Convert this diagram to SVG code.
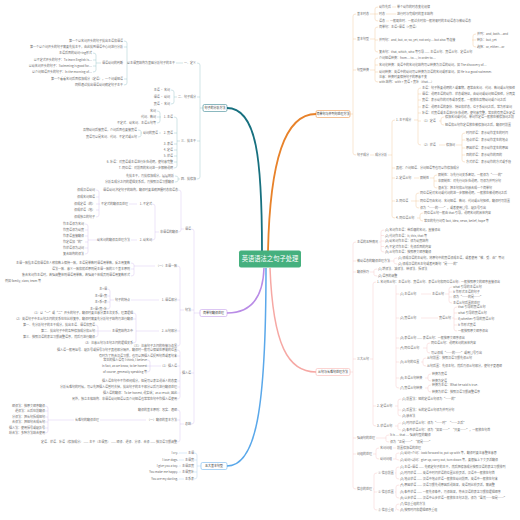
<svg xmlns="http://www.w3.org/2000/svg" width="520" height="520" viewBox="0 0 520 520">
<style>
text{font-family:"Noto Sans CJK SC","Noto Sans",sans-serif;font-size:3px;fill:#6a6a6a}
.r{text-anchor:end}
.m{text-anchor:middle;fill:#333}
.c{fill:none;stroke-width:.4}
.ct{stroke:#8cbac2}.co{stroke:#f0c08e}.cp{stroke:#d2bbee}.cb{stroke:#a3ccf0}.ck{stroke:#f4c0bf}
.bx{fill:#fff;stroke-width:.5}
</style>
<rect width="520" height="520" fill="#fff"/>
<g id="connectors">
<path d="M262 251C262 160 257 108 227 108" fill="none" stroke="#17707f" stroke-width="1.8"/>
<path d="M268 251C270 160 285 114 316 114" fill="none" stroke="#e8822a" stroke-width="1.8"/>
<path d="M264 268C263 298 250 313 227 313" fill="none" stroke="#b98ce6" stroke-width="1.5"/>
<path d="M266 268C266 410 256 466 227 466" fill="none" stroke="#5aa8ea" stroke-width="1.5"/>
<path d="M270 268C273 345 288 372 316 372" fill="none" stroke="#f6a8a4" stroke-width="1.5"/>
<g class="c ct">
<path d="M203 108H200M197 63Q200 63 200 65V177Q200 179 197 179M197 97H200M197 141H200"/>
<path d="M183 63H176M129 63H127M124 41Q127 41 127 43V83Q127 85 124 85M124 47H127M124 79H127M101 63H96M93 53Q96 53 96 55V70Q96 72 93 72M93 60H96M93 66H96"/>
<path d="M177 97H174M171 90Q174 90 174 92V102Q174 104 171 104"/>
<path d="M180 141H177M174 117Q177 117 177 119V166Q177 168 174 168M174 133H177M174 144H177M174 150H177M174 156H177M174 162H177"/>
<path d="M161 117H160M157 111Q160 111 160 113V121Q160 123 157 123M157 117H160"/>
<path d="M161 133H159M142 133H141M138 130Q141 130 141 131.5V135.5Q141 137 138 137"/>
<path d="M180 179H178M175 176Q178 176 178 177.5V180.5Q178 182 175 182"/>
</g>
<g class="c cp">
<path d="M200 313H194M191 229Q194 229 194 231V422Q194 424 191 424M191 310H194M191 373H194"/>
<path d="M184 229H181M178 190Q181 190 181 192V230Q181 232 178 232"/>
<path d="M159 232H155M152 204Q155 204 155 206V238Q155 240 152 240"/>
<path d="M137 204H129M100 204H99M96 190Q99 190 99 192V215Q99 217 96 217M96 197H99M96 204H99M96 210H99"/>
<path d="M137 240H131M99 240H88M85 224Q88 224 88 226V252Q88 254 85 254M85 230H88M85 236H88M85 242H88M85 248H88"/>
<path d="M184 310H180M177 266Q180 266 180 268V344Q180 346 177 346M177 300H180M177 331H180"/>
<path d="M155 266H134M131 263Q134 263 134 265V274Q134 276 131 276M131 269H134"/>
<path d="M159 300H131M114 300H110M107 289Q110 289 110 291V307Q110 309 107 309M107 296H110M107 302H110"/>
<path d="M159 331H136M133 313Q136 313 136 315V341Q136 343 133 343M133 319H136M111 331H98M95 325Q98 325 98 327V335Q98 337 95 337M95 331H98"/>
<path d="M181 373H180M177 350Q180 350 180 352V397Q180 399 177 399M177 356H180M177 366H180M177 381H180M177 387H180M177 393H180"/>
<path d="M161 366H150M147 360Q150 360 150 362V370Q150 372 147 372M147 366H150"/>
<path d="M184 424H180M177 410Q180 410 180 412V440Q180 442 177 442M177 420H180M146 420H100M74 420H48M45 406Q48 406 48 408V431Q48 433 45 433M45 411H48M45 417H48M45 422H48M45 428H48"/>
</g>
<g class="c cb">
<path d="M201 466H197M194 453Q197 453 197 455V477Q197 479 194 479M194 460H197M194 472H197"/>
<path d="M187 453H179M184 460H179M181 466H179M181 472H179M184 479H179"/>
</g>
<g class="c co">
<path d="M350 114H353M356 14Q353 14 353 16V153Q353 155 356 155M353 39H356M353 70H356"/>
<path d="M370 14H375M378 7Q375 7 375 9V19Q375 21 378 21M375 14H378M392 7H396M386 14H396M386 21H389"/>
<path d="M370 39H375M378 27Q375 27 375 29V50Q375 52 378 52M375 40H378M472 40H473M476 34Q473 34 473 36V45Q473 47 476 47M473 40H476"/>
<path d="M370 70H375M378 58Q375 58 375 60V80Q375 82 378 82M375 65H378M375 72H378"/>
<path d="M370 155H374M388 155H392M395 120Q392 120 392 122V216Q392 218 395 218M392 168H395M392 178H395M392 201H395"/>
<path d="M414 120H418M421 88Q418 88 418 90V143Q418 145 421 145M418 94H421M418 100H421M418 107H421M418 113H421M418 121H421"/>
<path d="M439 121H441M444 117Q441 117 441 119V123Q441 125 444 125"/>
<path d="M439 145H445M456 145H462M465 133Q462 133 462 135V160Q462 162 465 162M462 140H465M462 148H465M462 155H465"/>
<path d="M414 178H419M430 178H434M437 175Q434 175 434 177V186Q434 188 437 188M434 181H437"/>
<path d="M411 201H416M419 193Q416 193 416 195V206Q416 208 419 208M416 201H419"/>
<path d="M417 218H420M423 213Q420 213 420 215V219Q420 221 423 221"/>
</g>
<g class="c ck">
<path d="M350 372H353M356 242Q353 242 353 244V487Q353 489 356 489M353 261H356M353 272H356M353 359H356M353 438H356M353 454H356"/>
<path d="M379 242H381M384 230Q381 230 381 232V250Q381 252 384 252M381 235.5H384M381 241H384M381 246.5H384"/>
<path d="M388 261H394M397 258Q394 258 394 259.5V262.5Q394 264 397 264"/>
<path d="M370 272H374M377 269Q374 269 374 270.5V274.5Q374 276 377 276"/>
<path d="M370 359H373M376 282Q373 282 373 284V424Q373 426 376 426M373 406H376M455 282H460"/>
<path d="M396 285V386Q396 388 399 388M396 294H399M396 318H399M396 338H399M396 348H399M396 362H399M396 378H399"/>
<path d="M421 294H431M445 294H449M452 287Q449 287 449 289V301Q449 303 452 303M449 292H452M449 297H452"/>
<path d="M421 318H438M452 318H454M457 307Q454 307 454 309V329Q454 331 457 331M454 313H457M454 319H457M454 325H457"/>
<path d="M423 348H427M430 343Q427 343 427 345V351Q427 353 430 353"/>
<path d="M421 362H423M426 358Q423 358 423 360V364Q423 366 426 366"/>
<path d="M425 378H428M431 374Q428 374 428 376V379Q428 381 431 381M425 388H428M431 385Q428 385 428 387V390Q428 392 431 392"/>
<path d="M395 406H398M401 399Q398 399 398 401V414Q398 416 401 416M398 410H401"/>
<path d="M395 426H398M401 423Q398 423 398 424.5V428.5Q398 430 401 430"/>
<path d="M376 438H386M389 435Q386 435 386 436.5V440.5Q386 442 389 442"/>
<path d="M373 454H376M379 448Q376 448 376 450V457Q376 459 379 459M393 448H396M393 459H396M399 453Q396 453 396 454.5V458.5Q396 460 399 460"/>
<path d="M373 489H374M377 473Q374 473 374 475V508Q374 510 377 510M374 492H377"/>
<path d="M395 473H396M399 467Q396 467 396 469V477Q396 479 399 479M395 492H396M399 485Q396 485 396 487V496Q396 498 399 498M395 510H396M399 504Q396 504 396 506V508Q396 510 399 510"/>
</g>
</g>
<g id="root"><rect x="239" y="250.5" width="62" height="17" rx="2" fill="#45b07e"/><text x="270" y="261.3" text-anchor="middle" style="fill:#fff;font-size:6.3px">英语语法之句子处理</text></g>
<g id="n1"><rect class="bx" x="203" y="104.5" width="24" height="7" rx="1.5" stroke="#17707f"/><text class="m" x="215" y="109">句子的分析方法</text></g>
<g id="n2"><rect class="bx" x="316" y="110.5" width="34" height="7" rx="1.5" stroke="#e8822a"/><text class="m" x="333" y="115">简单句与并列句处理方法</text></g>
<g id="n3"><rect class="bx" x="200" y="309.5" width="27" height="7" rx="1.5" stroke="#b98ce6"/><text class="m" x="213.5" y="314">简单句翻译处理</text></g>
<g id="n4"><rect class="bx" x="201" y="462.5" width="26" height="7" rx="1.5" stroke="#5aa8ea"/><text class="m" x="214" y="467">五大基本句型</text></g>
<g id="n5"><rect class="bx" x="316" y="368.5" width="34" height="7" rx="1.5" stroke="#f6a8a4"/><text class="m" x="333" y="373">从句与长难句处理方法</text></g>
<g id="teal">
<g id="t1"><text class="r" x="196" y="64">一、定义</text></g>
<g id="t1a"><text class="r" x="175" y="64">以主谓宾结构为基础分析句子的主干</text></g>
<g id="t1b"><text class="r" x="123" y="42">第一个以名词开头的句子找出主语和谓语</text></g>
<g id="t1c"><text class="r" x="123" y="48">第一个以介词开头的句子需要先找主干，由此找到谓语中心词进行分析</text></g>
<g id="t1d"><text class="r" x="123" y="64">谓语动词的判断</text></g>
<g id="t1e"><text class="r" x="92" y="54">主语后面的动词+ing形式</text></g>
<g id="t1f"><text class="r" x="92" y="61">以不定式开头的句子：To learn English is…</text></g>
<g id="t1g"><text class="r" x="92" y="67">以动名词开头的句子：Swimming is good for…</text></g>
<g id="t1h"><text class="r" x="92" y="73">以介词短语开头的句子：In the morning of…</text></g>
<g id="t1i"><text class="r" x="123" y="80">第一个看看名词后面修饰成分（定语），一个词或短语</text></g>
<g id="t1j"><text class="r" x="123" y="86">同样通过找出谓语动词确定句子主干</text></g>
<g id="t2"><text class="r" x="196" y="98">二、句子成分</text></g>
<g id="t2a"><text class="r" x="170" y="91">主语 · 名词</text></g>
<g id="t2b"><text class="r" x="170" y="98">谓语 · 动词</text></g>
<g id="t2c"><text class="r" x="170" y="105">宾语 · 名词</text></g>
<g id="t3"><text class="r" x="196" y="142">三、找主干</text></g>
<g id="t3a"><text class="r" x="173" y="118">1. 主语</text></g>
<g id="t3a1"><text class="r" x="156" y="112">名词</text></g>
<g id="t3a2"><text class="r" x="156" y="118">代词、数词</text></g>
<g id="t3a3"><text class="r" x="156" y="124">不定式、动名词、主语从句等</text></g>
<g id="t3b"><text class="r" x="173" y="134">2. 宾语</text></g>
<g id="t3b0"><text class="r" x="158" y="134">动词的宾语</text></g>
<g id="t3b1"><text class="r" x="137" y="131">及物动词后接宾语，介词后面也要接宾语</text></g>
<g id="t3b2"><text class="r" x="137" y="138">宾语可以是名词、代词、不定式或从句</text></g>
<g id="t3c"><text class="r" x="173" y="145">3. 表语</text></g>
<g id="t3d"><text class="r" x="173" y="151">4. 定语</text></g>
<g id="t3e"><text class="r" x="173" y="157">5. 状语</text></g>
<g id="t3f"><text class="r" x="173" y="163">6. 补语：对宾语或主语进行补充说明，使句意完整</text></g>
<g id="t3g"><text class="r" x="173" y="169">7. 同位语：对前面的名词进一步解释说明</text></g>
<g id="t4"><text class="r" x="196" y="180">四、找修饰</text></g>
<g id="t4a"><text class="r" x="174" y="177">先找主干，再找修饰成分，层层剖析</text></g>
<g id="t4b"><text class="r" x="174" y="183">分析各成分之间的逻辑关系后，再按照汉语习惯翻译</text></g>
</g>
<g id="purple">
<g id="p1"><text class="r" x="191" y="230">谓语</text></g>
<g id="p1a"><text class="r" x="178" y="191">谓语动词决定句子的结构，翻译时要准确把握时态和语态</text></g>
<g id="p1b"><text class="r" x="178" y="233">非谓语的翻译</text></g>
<g id="p1c"><text class="r" x="152" y="205">1. 不定式</text></g>
<g id="p1d"><text class="r" x="128" y="205">不定式的翻译及处理</text></g>
<g id="p1d1"><text class="r" x="95" y="191">译成汉语动词</text></g>
<g id="p1d2"><text class="r" x="95" y="198">译成名词短语</text></g>
<g id="p1d3"><text class="r" x="95" y="205">译成定语（的）</text></g>
<g id="p1d4"><text class="r" x="95" y="211">译成状语（地）</text></g>
<g id="p1d5"><text class="r" x="95" y="218">译成独立的句子</text></g>
<g id="p1e"><text class="r" x="152" y="241">2. 动名词</text></g>
<g id="p1f"><text class="r" x="130" y="241">动名词的翻译及处理方法</text></g>
<g id="p1f1"><text class="r" x="84" y="225">作主语译为名词</text></g>
<g id="p1f2"><text class="r" x="84" y="231">作宾语译为动宾</text></g>
<g id="p1f3"><text class="r" x="84" y="237">作表语直接翻译</text></g>
<g id="p1f4"><text class="r" x="84" y="243">作定语加“的”</text></g>
<g id="p1f5"><text class="r" x="84" y="249">作状语译为副词</text></g>
<g id="p1f6"><text class="r" x="84" y="255">复合结构的译法</text></g>
<g id="p2"><text class="r" x="191" y="311">句法</text></g>
<g id="p2a"><text class="r" x="177" y="267">（一）主谓一致</text></g>
<g id="p2a1"><text class="r" x="130" y="264">主谓一致指主语和谓语在人称和数上保持一致，主语是单数时谓语用单数，反之用复数</text></g>
<g id="p2a2"><text class="r" x="130" y="270">语法一致、意义一致和就近原则是主谓一致的三个基本原则</text></g>
<g id="p2a3"><text class="r" x="130" y="276">集合名词作主语时，若强调整体则谓语用单数，若强调个体成员则谓语用复数形式</text><text x="5" y="281.5">例如 family, class, team 等</text></g>
<g id="p2b"><text class="r" x="177" y="301">1. 谓语部分</text></g>
<g id="p2b0"><text class="r" x="130" y="301">句子的特点</text></g>
<g id="p2b1"><text class="r" x="107" y="290">主+谓</text></g>
<g id="p2b2"><text class="r" x="107" y="297">主+谓+宾</text></g>
<g id="p2b3"><text class="r" x="107" y="303">主+系+表</text></g>
<g id="p2b4"><text class="r" x="107" y="310">主+谓+宾+补</text></g>
<g id="p2c"><text class="r" x="177" y="332">2. 从句部分</text></g>
<g id="p2c1"><text class="r" x="133" y="314">（1）以“一”或“二”开头的句子，翻译时要注意分清主次关系，理清逻辑</text></g>
<g id="p2c2"><text class="r" x="133" y="320">（2）英语句子中主从句之间的关系往往比较复杂，翻译时需要先分析句子结构再进行翻译</text></g>
<g id="p2c3"><text class="r" x="133" y="332">主谓宾结构之中</text></g>
<g id="p2c4"><text class="r" x="95" y="326">第一、先分析句子的主干成分，找出主语、谓语和宾语</text></g>
<g id="p2c5"><text class="r" x="95" y="332">第二、找出句子中的各种修饰成分和从句</text></g>
<g id="p2c6"><text class="r" x="95" y="338">第三、按照汉语的表达习惯调整语序，然后再进行翻译</text></g>
<g id="p2c7"><text class="r" x="133" y="344">（3）注意从句与主句之间的逻辑关系</text></g>
<g id="p2d"><text class="r" x="177" y="347">（三）注意句子之间的衔接与连贯</text></g>
<g id="p3"><text class="r" x="191" y="374">插入语</text></g>
<g id="p3a"><text class="r" x="177" y="351">插入语一般用逗号、破折号或括号与句子其他部分隔开，翻译时一般可以保留在原来的位置</text></g>
<g id="p3b"><text class="r" x="177" y="357">有时为了符合汉语习惯，也可以把插入语提到句首或者句末</text></g>
<g id="p3c"><text class="r" x="177" y="367">（1）插入语</text></g>
<g id="p3c1"><text class="r" x="147" y="361">常见的插入语有 I think, I believe</text></g>
<g id="p3c2"><text class="r" x="147" y="367">in fact, as we know, to be honest</text></g>
<g id="p3c3"><text class="r" x="147" y="373">of course, generally speaking 等</text></g>
<g id="p3d"><text class="r" x="177" y="382">插入语在句中不作任何成分，但是可以表达说话人的态度</text></g>
<g id="p3e"><text class="r" x="177" y="388">分析长难句的时候，可以先把插入语暂时去掉，找出句子的主干部分以后再进行翻译处理</text></g>
<g id="p3f"><text class="r" x="177" y="394">插入语的翻译：To be honest, 说实话；as a result, 因此</text></g>
<g id="p3g"><text class="r" x="177" y="400">另外，独立主格结构、非谓语动词短语以及介词短语也常常在句中作插入语使用</text></g>
<g id="p4"><text class="r" x="191" y="425">总结</text></g>
<g id="p4a"><text class="r" x="177" y="411">翻译的基本原则：忠实、通顺</text></g>
<g id="p4b"><text class="r" x="177" y="421">（一）翻译的基本方法</text></g>
<g id="p4c"><text class="r" x="99" y="421">长难句的翻译处理</text></g>
<g id="p4c1"><text class="r" x="45" y="407">顺译法：按原文顺序翻译</text></g>
<g id="p4c2"><text class="r" x="45" y="412">逆译法：从后往前翻译</text></g>
<g id="p4c3"><text class="r" x="45" y="418">分译法：把长句拆成短句</text></g>
<g id="p4c4"><text class="r" x="45" y="423">合译法：把短句合成长句</text></g>
<g id="p4c5"><text class="r" x="45" y="429">插入法：使用括号或破折号</text></g>
<g id="p4c6"><text class="r" x="45" y="434">综合法：多种方法结合使用</text></g>
<g id="p4d"><text class="r" x="177" y="443">定语、状语、补语（修饰成分） —— 主干（主谓宾） —— 顺译、逆译、分译、合译 —— 按汉语习惯调整</text></g>
</g>
<g id="blue">
<g id="b1"><text class="r" x="194" y="454">主谓</text><text class="r" x="178" y="454">I cry.</text></g>
<g id="b2"><text class="r" x="194" y="461">主谓宾</text><text class="r" x="178" y="461">I love dogs.</text></g>
<g id="b3"><text class="r" x="194" y="467">主谓双宾</text><text class="r" x="178" y="467">I give you a toy.</text></g>
<g id="b4"><text class="r" x="194" y="473">主谓宾补</text><text class="r" x="178" y="473">You make me happy.</text></g>
<g id="b5"><text class="r" x="194" y="480">主系表</text><text class="r" x="178" y="480">You are my darling.</text></g>
</g>
<g id="orange">
<g id="o1"><text x="357" y="15">基本时态</text></g>
<g id="o1a"><text x="379" y="8">动作先后</text><text x="397" y="8">单个动作的时态变化规律</text></g>
<g id="o1b"><text x="379" y="15">时态</text><text x="397" y="15">进行时与完成时的基本结构</text></g>
<g id="o1c"><text x="379" y="22">语态</text><text x="390" y="22">一般现在时、一般过去时和一般将来时的主动语态与被动语态</text></g>
<g id="o2"><text x="357" y="40">基本句型</text></g>
<g id="o2a"><text x="379" y="28">简单句：主语+谓语（+宾语）</text></g>
<g id="o2b"><text x="379" y="41">并列句：and, but, or, so, yet, not only… but also 等连接</text></g>
<g id="o2b1"><text x="477" y="35">并列：and, both…and</text></g>
<g id="o2b2"><text x="477" y="41">转折：but, yet</text></g>
<g id="o2b3"><text x="477" y="48">选择：or, either…or</text></g>
<g id="o2c"><text x="379" y="53">复合句：that, which, who 等引导 —— 主语从句、宾语从句、定语从句</text></g>
<g id="o3"><text x="357" y="71">句型转换</text></g>
<g id="o3a"><text x="379" y="59">介词短语转换：from… to…, in order to…</text></g>
<g id="o3b"><text x="379" y="66">名词化转换：英语中的名词化结构可以转换为汉语的动词，如 The discovery of…</text></g>
<g id="o3c"><text x="379" y="73">动词转换：英语中的动词可以转换为汉语的名词或形容词，如 He is a good swimmer.</text><text x="379" y="78">注意：转换时要保持句子的原意不变</text></g>
<g id="o3d"><text x="379" y="83">with 结构：with + 宾语 + 宾补（that…）</text></g>
<g id="o4"><text x="357" y="156">句子成分</text></g>
<g id="o4a"><text x="375" y="156">成分分析</text></g>
<g id="o4b"><text x="396" y="121">1. 主干成分</text></g>
<g id="o4b1"><text x="422" y="89">主语：句子所要说明的人或事物，通常由名词、代词、数词或从句担任</text></g>
<g id="o4b2"><text x="422" y="95">谓语：说明主语的动作、状态或特征，由动词或动词短语担任，分两类</text></g>
<g id="o4b3"><text x="422" y="101">宾语：表示动作的对象或承受者，一般放在及物动词或介词之后</text></g>
<g id="o4b4"><text x="422" y="108">表语：说明主语的身份、特征和状态，位于系动词之后，常为形容词</text></g>
<g id="o4b5"><text x="422" y="114">补语：对宾语或主语进行补充说明，使句意完整，常见的有宾语补足语</text></g>
<g id="o4c"><text x="422" y="122">（1）定语</text></g>
<g id="o4c1"><text x="445" y="118">修饰名词或代词，单词作定语一般放在被修饰词之前</text></g>
<g id="o4c2"><text x="445" y="126">短语和从句作定语放在被修饰词之后，翻译时前置</text></g>
<g id="o4d"><text x="422" y="146">（2）状语</text><text x="446" y="146">修饰词</text></g>
<g id="o4d1"><text x="466" y="134">时间状语：表示动作发生的时间</text></g>
<g id="o4d2"><text x="466" y="141">地点状语：表示动作发生的地点</text></g>
<g id="o4d3"><text x="466" y="149">原因状语：表示动作发生的原因</text></g>
<g id="o4d4"><text x="466" y="156">目的状语：表示动作的目的</text></g>
<g id="o4d5"><text x="466" y="163">方式状语：表示动作的方式或手段</text></g>
<g id="o4e"><text x="396" y="169">其他：介词短语、分词短语等也可以作修饰成分</text></g>
<g id="o4f"><text x="396" y="179">2. 定语从句</text><text x="420" y="179">限制性</text></g>
<g id="o4f1"><text x="438" y="176">限制性：与先行词关系密切，一般译为“……的”</text></g>
<g id="o4f2"><text x="438" y="182">非限制性：对先行词补充说明，可译为并列分句</text></g>
<g id="o4f3"><text x="438" y="189">混合法：把主句和从句融合成一个简单句</text></g>
<g id="o4g"><text x="396" y="202">3. 同位语</text></g>
<g id="o4g1"><text x="420" y="194">同位语是对名词或代词的进一步解释说明，一般放在被说明词之后</text></g>
<g id="o4g2"><text x="420" y="202">同位语可由名词、名词短语、数词、代词或从句担任，翻译时可前置</text></g>
<g id="o4g3"><text x="420" y="209">译为“……的……”，或者使用冒号、破折号引出</text></g>
<g id="o4h"><text x="396" y="219">4. 同位语从句</text></g>
<g id="o4h1"><text x="424" y="214">同位语从句一般由 that 引导，说明名词的具体内容</text></g>
<g id="o4h2"><text x="424" y="222">常见的先行词有 fact, idea, news, belief, hope 等</text></g>
</g>
<g id="pink">
<g id="k1"><text x="357" y="243">主语的五种情况</text></g>
<g id="k1a"><text x="385" y="231">(1) 名词作主语：带后缀的名词，直接译出</text></g>
<g id="k1b"><text x="385" y="236.5">(2) 代词作主语：it, this, that 等</text></g>
<g id="k1c"><text x="385" y="242">(3) 动名词作主语：译为动宾结构</text></g>
<g id="k1d"><text x="385" y="247.5">(4) 不定式作主语：先译后面的内容</text></g>
<g id="k1e"><text x="385" y="253">(5) 从句作主语：按照原文顺序翻译</text></g>
<g id="k2"><text x="357" y="262">被动语态的翻译处理方法</text></g>
<g id="k2a"><text x="398" y="259">(1) 译成汉语的主动句，将原句中的宾语译成主语，或者使用“被、受、由”等词</text></g>
<g id="k2b"><text x="398" y="265">(2) 译成汉语的无主句或者判断句“是……的”</text></g>
<g id="k3"><text x="357" y="273">翻译技巧</text></g>
<g id="k3a"><text x="378" y="270">(1) 增译法、减译法、转译法、拆译法</text></g>
<g id="k3b"><text x="378" y="277">(2) 语序的调整</text></g>
<g id="k4"><text x="357" y="360">三大从句</text></g>
<g id="k4a"><text x="377" y="283">1. 名词性从句：主语从句、宾语从句、表语从句和同位语从句</text><text x="461" y="283">一般按照原文的顺序直接译出</text></g>
<g id="k4b"><text x="400" y="295">(1) 主语从句</text><text x="432" y="295">主语从句</text></g>
<g id="k4b1"><text x="453" y="288">what 引导的主语从句</text></g>
<g id="k4b2"><text x="453" y="293">it 作形式主语的句子</text></g>
<g id="k4b3"><text x="453" y="298">译为“……的是……”</text></g>
<g id="k4b4"><text x="453" y="304">主语从句后置的处理</text></g>
<g id="k4c"><text x="400" y="319">(2) 宾语从句</text><text x="439" y="319">宾语从句</text></g>
<g id="k4c1"><text x="458" y="308">that 引导的宾语从句</text></g>
<g id="k4c2"><text x="458" y="314">what 引导的宾语从句</text></g>
<g id="k4c3"><text x="458" y="320">if/whether 引导的宾语从句</text></g>
<g id="k4c4"><text x="458" y="326">it 作形式宾语</text></g>
<g id="k4c5"><text x="458" y="332">一般按照原文顺序译出</text></g>
<g id="k4d"><text x="400" y="339">(3) 表语从句 —— 表语从句：一般按原文顺序译出</text></g>
<g id="k4e"><text x="400" y="349">(4) 同位语从句</text></g>
<g id="k4e1"><text x="431" y="344">同位语从句：说明名词的具体内容</text></g>
<g id="k4e2"><text x="431" y="354">可以译成“……的……”或用冒号引出</text></g>
<g id="k4f"><text x="400" y="363">(5) 从句的位置</text></g>
<g id="k4f1"><text x="427" y="359">从句前置：按照汉语习惯先译从句</text></g>
<g id="k4f2"><text x="427" y="367">从句后置：先译主句，然后再译从句部分，使句子更通顺</text></g>
<g id="k4g"><text x="400" y="379">(6) 主语从句转换</text></g>
<g id="k4g1"><text x="432" y="375">转换为宾语</text></g>
<g id="k4g2"><text x="432" y="382">转换为定语</text></g>
<g id="k4h"><text x="400" y="389">(7) 宾语从句转换</text></g>
<g id="k4h1"><text x="432" y="386">转换为主语：What he said is true.</text></g>
<g id="k4h2"><text x="432" y="393">转换为状语：按照汉语习惯调整语序</text></g>
<g id="k4i"><text x="377" y="407">2. 定语从句</text></g>
<g id="k4i1"><text x="402" y="400">(1) 前置法：短的定语从句译为“……的”</text></g>
<g id="k4i2"><text x="402" y="411">(2) 后置法：长的定语从句译为并列分句</text></g>
<g id="k4i3"><text x="402" y="417">(3) 融合法</text></g>
<g id="k4j"><text x="377" y="427">3. 状语从句</text></g>
<g id="k4j1"><text x="402" y="424">(1) 时间状语从句：译为“……时”“……之后”</text></g>
<g id="k4j2"><text x="402" y="431">(2) 条件状语从句：译为“如果……”“只要……”，一般放在句首</text></g>
<g id="k5"><text x="357" y="439">强调句的处理</text></g>
<g id="k5a"><text x="390" y="436">It is … that … 强调句型的翻译</text></g>
<g id="k5b"><text x="390" y="443">译为“正是……”“就是……”</text></g>
<g id="k6"><text x="357" y="455">词组的处理</text></g>
<g id="k6a"><text x="380" y="449">名词词组</text><text x="397" y="449">前置修饰语的处理</text></g>
<g id="k6b"><text x="380" y="460">动词词组</text></g>
<g id="k6b1"><text x="400" y="454">(1) 动词+介词：look forward to, put up with 等，翻译时要注意整体意思</text></g>
<g id="k6b2"><text x="400" y="461">(2) 动词+副词：give up, carry out, turn down 等，要根据上下文灵活翻译</text></g>
<g id="k7"><text x="357" y="490">信息的处理</text></g>
<g id="k7a"><text x="378" y="474">① 信息前置</text></g>
<g id="k7b"><text x="378" y="493">② 信息后置</text></g>
<g id="k7c"><text x="378" y="511">③ 信息重组</text></g>
<g id="k7a1"><text x="400" y="468">(1) 主语+谓语 —— 先确定句子的主干，然后把修饰成分按照汉语的表达习惯排列</text></g>
<g id="k7a2"><text x="400" y="474">(2) 时间状语 —— 英语中时间状语的位置比较灵活，汉语中一般放在句首</text></g>
<g id="k7a3"><text x="400" y="480">(3) 地点状语 —— 汉语中地点状语一般放在动词前面，英语中一般放在句末</text></g>
<g id="k7b1"><text x="400" y="486">(4) 原因状语 —— 汉语习惯先说原因后说结果，英语则比较灵活，需调整</text></g>
<g id="k7b2"><text x="400" y="493">(5) 条件状语 —— 一般先译条件，再译结果，符合汉语的表达习惯和逻辑顺序</text></g>
<g id="k7b3"><text x="400" y="499">(6) 让步状语 —— 汉语中让步状语一般放在主句之前，译为“虽然……但是……”</text></g>
<g id="k7c1"><text x="400" y="505">(7) 信息重组的方法</text></g>
<g id="k7c2"><text x="400" y="511">(8) 按照时间和逻辑顺序重组</text></g>
</g>
</svg>
